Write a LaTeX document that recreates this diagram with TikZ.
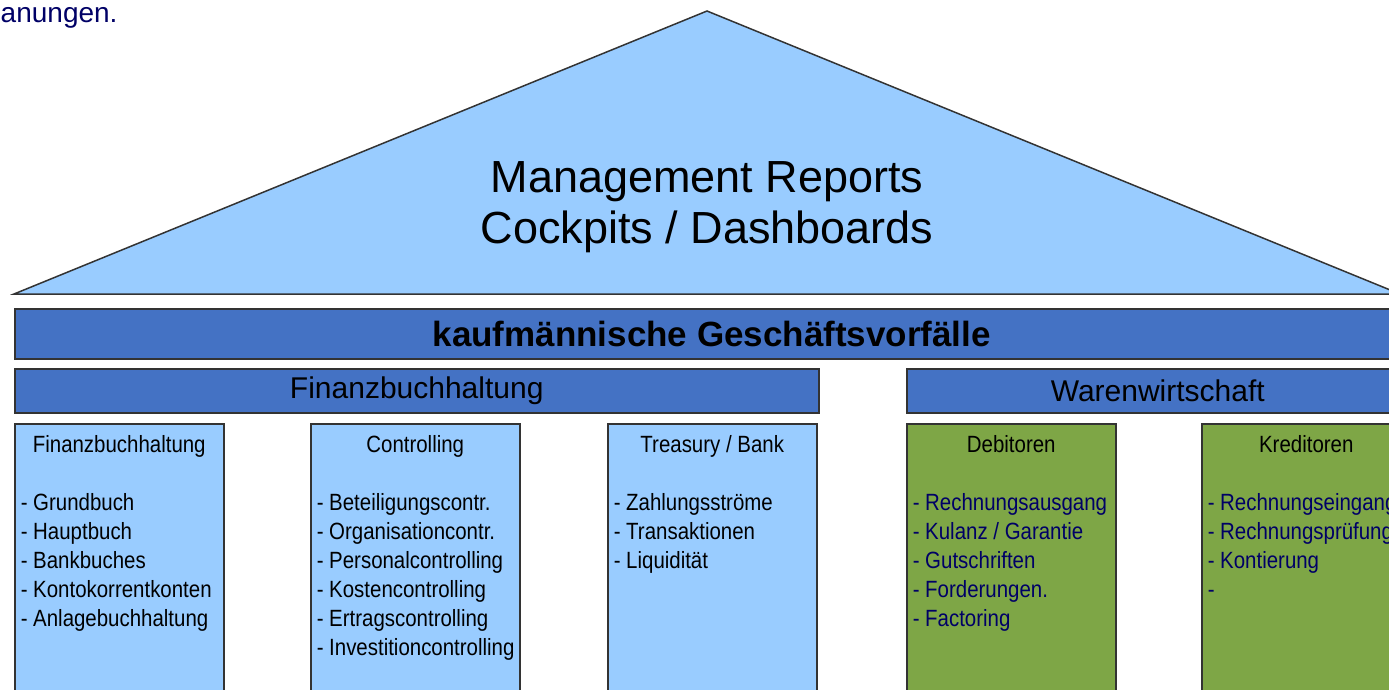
\documentclass[tikz,border=0pt]{standalone}
\usepackage{fontspec}
\setmainfont{Liberation Sans}
\newfontfamily\narrowfont{Liberation Sans}[FakeStretch=0.87]
\usetikzlibrary{positioning}

\definecolor{roof}{RGB}{153,204,255}
\definecolor{beam}{RGB}{68,114,196}
\definecolor{greenpillar}{RGB}{126,166,70}
\definecolor{navy}{RGB}{0,0,102}
\definecolor{rim}{RGB}{51,51,51}

\begin{document}
\begin{tikzpicture}[x=1pt,y=-1pt,line width=1.5pt,
  beam/.style={draw=rim,fill=beam,inner sep=0pt,anchor=north west,
    font=\fontsize{30}{36}\selectfont},
  pillar/.style={draw=rim,fill=roof,minimum width=209pt,minimum height=300pt,
    inner sep=0pt,anchor=north west},
  pillartitle/.style={anchor=base,inner sep=0pt,
    font=\narrowfont\fontsize{23.5}{29}\selectfont},
  itemlist/.style={anchor=north west,inner sep=0pt,align=left,
    font=\narrowfont\fontsize{23.5}{29}\selectfont}]

\clip (0,0) rectangle (1389,689);

% Rest Text oben links
\node[anchor=base west,inner sep=0pt,text=navy,font=\fontsize{28}{34}\selectfont]
  (prev) at (0,22) {anungen.};

% Dach
\draw[draw=rim,fill=roof] (707,11) -- (14,294) -- (1400,294) -- cycle;
\node[align=center,font=\fontsize{45}{51}\selectfont] (reports) at (707,207)
  {Management Reports\\Cockpits / Dashboards};

% Balken
\node[beam,minimum width=1394pt,minimum height=50pt,font=\bfseries\fontsize{35}{40}\selectfont]
  (gv) at (14,308) {kaufmännische Geschäftsvorfälle};
\node[beam,minimum width=804pt,minimum height=44pt] (fibubar) at (14,368) {Finanzbuchhaltung};
\node[beam,minimum width=502pt,minimum height=44pt] (wwbar) at (906,368) {Warenwirtschaft};

% Saeulen
\node[pillar] (fibu) at (14,423) {};
\node[pillar] (contr) at (310,423) {};
\node[pillar] (bank) at (607,423) {};
\node[pillar,fill=greenpillar] (deb) at (906,423) {};
\node[pillar,fill=greenpillar] (kred) at (1201,423) {};

\node[pillartitle] (fibut) at ([yshift=-29pt]fibu.north) {Finanzbuchhaltung};
\node[pillartitle] (contrt) at ([yshift=-29pt]contr.north) {Controlling};
\node[pillartitle] (bankt) at ([yshift=-29pt]bank.north) {Treasury / Bank};
\node[pillartitle] (debt) at ([yshift=-29pt]deb.north) {Debitoren};
\node[pillartitle] (kredt) at ([yshift=-29pt]kred.north) {Kreditoren};

\node[itemlist] (fibul) at ([xshift=6pt,yshift=-70pt]fibu.north west)
  {- Grundbuch\\- Hauptbuch\\- Bankbuches\\- Kontokorrentkonten\\- Anlagebuchhaltung};
\node[itemlist] (contrl) at ([xshift=6pt,yshift=-70pt]contr.north west)
  {- Beteiligungscontr.\\- Organisationcontr.\\- Personalcontrolling\\- Kostencontrolling\\- Ertragscontrolling\\- Investitioncontrolling};
\node[itemlist] (bankl) at ([xshift=6pt,yshift=-70pt]bank.north west)
  {- Zahlungsströme\\- Transaktionen\\- Liquidität};
\node[itemlist,text=navy] (debl) at ([xshift=6pt,yshift=-70pt]deb.north west)
  {- Rechnungsausgang\\- Kulanz / Garantie\\- Gutschriften\\- Forderungen.\\- Factoring};
\node[itemlist,text=navy] (kredl) at ([xshift=6pt,yshift=-70pt]kred.north west)
  {- Rechnungseingang\\- Rechnungsprüfung\\- Kontierung\\-};

\end{tikzpicture}
\end{document}
